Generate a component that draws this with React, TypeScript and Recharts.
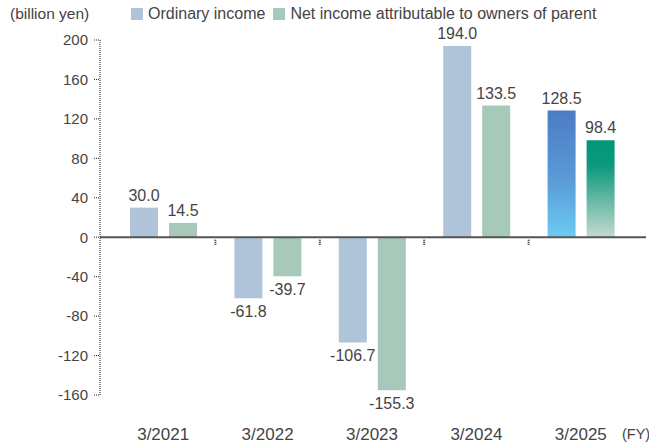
import React from "react";
import {
  BarChart,
  Bar,
  Cell,
  XAxis,
  YAxis,
  LabelList,
  ReferenceLine,
} from "recharts";

const categories = ["3/2021", "3/2022", "3/2023", "3/2024", "3/2025"];
const ordinaryIncome = [30.0, -61.8, -106.7, 194.0, 128.5];
const netIncome = [14.5, -39.7, -155.3, 133.5, 98.4];
const yTicks = [-160, -120, -80, -40, 0, 40, 80, 120, 160, 200];
const separators = [1, 2, 3, 4];

const FONT = '"Liberation Sans", Arial, Helvetica, sans-serif';
const TEXT = "#444";
const ORDINARY = "#b0c4d9";
const NET = "#a7c9ba";

const data = categories.map((fy, i) => ({
  fy,
  ordinary: ordinaryIncome[i],
  net: netIncome[i],
  pos: i + 0.5,
}));

function ValueLabel(props: any) {
  const { x, y, width, height, value } = props;
  if (value == null) return null;
  const top = Math.min(y, y + height);
  const bottom = Math.max(y, y + height);
  const v = Number(value);
  return (
    <text
      x={x + width / 2}
      y={v >= 0 ? top - 7 : bottom + 19}
      textAnchor="middle"
      fontSize={16}
      fontFamily={FONT}
      fill={TEXT}
    >
      {v.toFixed(1)}
    </text>
  );
}

function FyTick(props: any) {
  const { x, y, payload } = props;
  return (
    <text
      x={x}
      y={y + 37}
      textAnchor="middle"
      fontSize={17}
      fontFamily={FONT}
      fill={TEXT}
    >
      {payload.value}
    </text>
  );
}

export default function App() {
  return (
    <div
      style={{
        position: "absolute",
        left: 0,
        top: 0,
        width: 649,
        height: 446,
        background: "#fff",
        fontFamily: FONT,
        color: TEXT,
      }}
    >
      <div
        style={{
          position: "absolute",
          left: 10,
          top: 5,
          fontSize: 15.5,
          whiteSpace: "nowrap",
        }}
      >
        (billion yen)
      </div>
      <div
        style={{
          position: "absolute",
          left: 131,
          top: 5,
          fontSize: 16,
          display: "flex",
          alignItems: "center",
          whiteSpace: "nowrap",
        }}
      >
        <span
          style={{ width: 12, height: 12, background: ORDINARY, marginRight: 5 }}
        />
        <span style={{ marginRight: 8 }}>Ordinary income</span>
        <span style={{ width: 12, height: 12, background: NET, marginRight: 5 }} />
        <span>Net income attributable to owners of parent</span>
      </div>
      <div
        style={{
          position: "absolute",
          left: 622,
          top: 426,
          fontSize: 14.5,
          whiteSpace: "nowrap",
        }}
      >
        (FY)
      </div>
      <BarChart
        width={649}
        height={446}
        data={data}
        margin={{ top: 40, right: 3, left: 0, bottom: 11 }}
        barSize={28}
        barGap={11}
      >
        <defs>
          <linearGradient id="gradOrdinary" x1="0" y1="0" x2="0" y2="1">
            <stop offset="0%" stopColor="#4c7cc4" />
            <stop offset="55%" stopColor="#5a9bd8" />
            <stop offset="100%" stopColor="#6ccbf2" />
          </linearGradient>
          <linearGradient id="gradNet" x1="0" y1="0" x2="0" y2="1">
            <stop offset="0%" stopColor="#00967a" />
            <stop offset="25%" stopColor="#0b987c" />
            <stop offset="100%" stopColor="#c3dacf" />
          </linearGradient>
        </defs>
        <XAxis
          dataKey="fy"
          axisLine={false}
          tickLine={false}
          tick={<FyTick />}
          height={40}
          padding={{ left: 11, right: 13 }}
          interval={0}
        />
        <XAxis
          xAxisId="num"
          dataKey="pos"
          type="number"
          domain={[0, 5]}
          padding={{ left: 11, right: 13 }}
          hide
        />
        <YAxis
          domain={[-160, 200]}
          ticks={yTicks}
          interval={0}
          width={100}
          axisLine={{ stroke: "#222", strokeDasharray: "1 1" }}
          tickLine={{ stroke: "#222", strokeDasharray: "1 1" }}
          tickSize={6}
          tickMargin={6}
          tick={{ fontSize: 15, fill: TEXT, fontFamily: FONT }}
        />
        <ReferenceLine y={0} stroke="#555" strokeWidth={2} />
        {separators.map((s) => (
          <ReferenceLine
            key={s}
            xAxisId="num"
            segment={[
              { x: s, y: -2.5 },
              { x: s, y: -8 },
            ]}
            stroke="#222"
            strokeWidth={2}
            strokeDasharray="1 1"
          />
        ))}
        <Bar dataKey="ordinary" isAnimationActive={false}>
          {data.map((d, i) => (
            <Cell
              key={d.fy}
              fill={i === data.length - 1 ? "url(#gradOrdinary)" : ORDINARY}
            />
          ))}
          <LabelList dataKey="ordinary" content={<ValueLabel />} />
        </Bar>
        <Bar dataKey="net" isAnimationActive={false}>
          {data.map((d, i) => (
            <Cell
              key={d.fy}
              fill={i === data.length - 1 ? "url(#gradNet)" : NET}
            />
          ))}
          <LabelList dataKey="net" content={<ValueLabel />} />
        </Bar>
      </BarChart>
    </div>
  );
}
